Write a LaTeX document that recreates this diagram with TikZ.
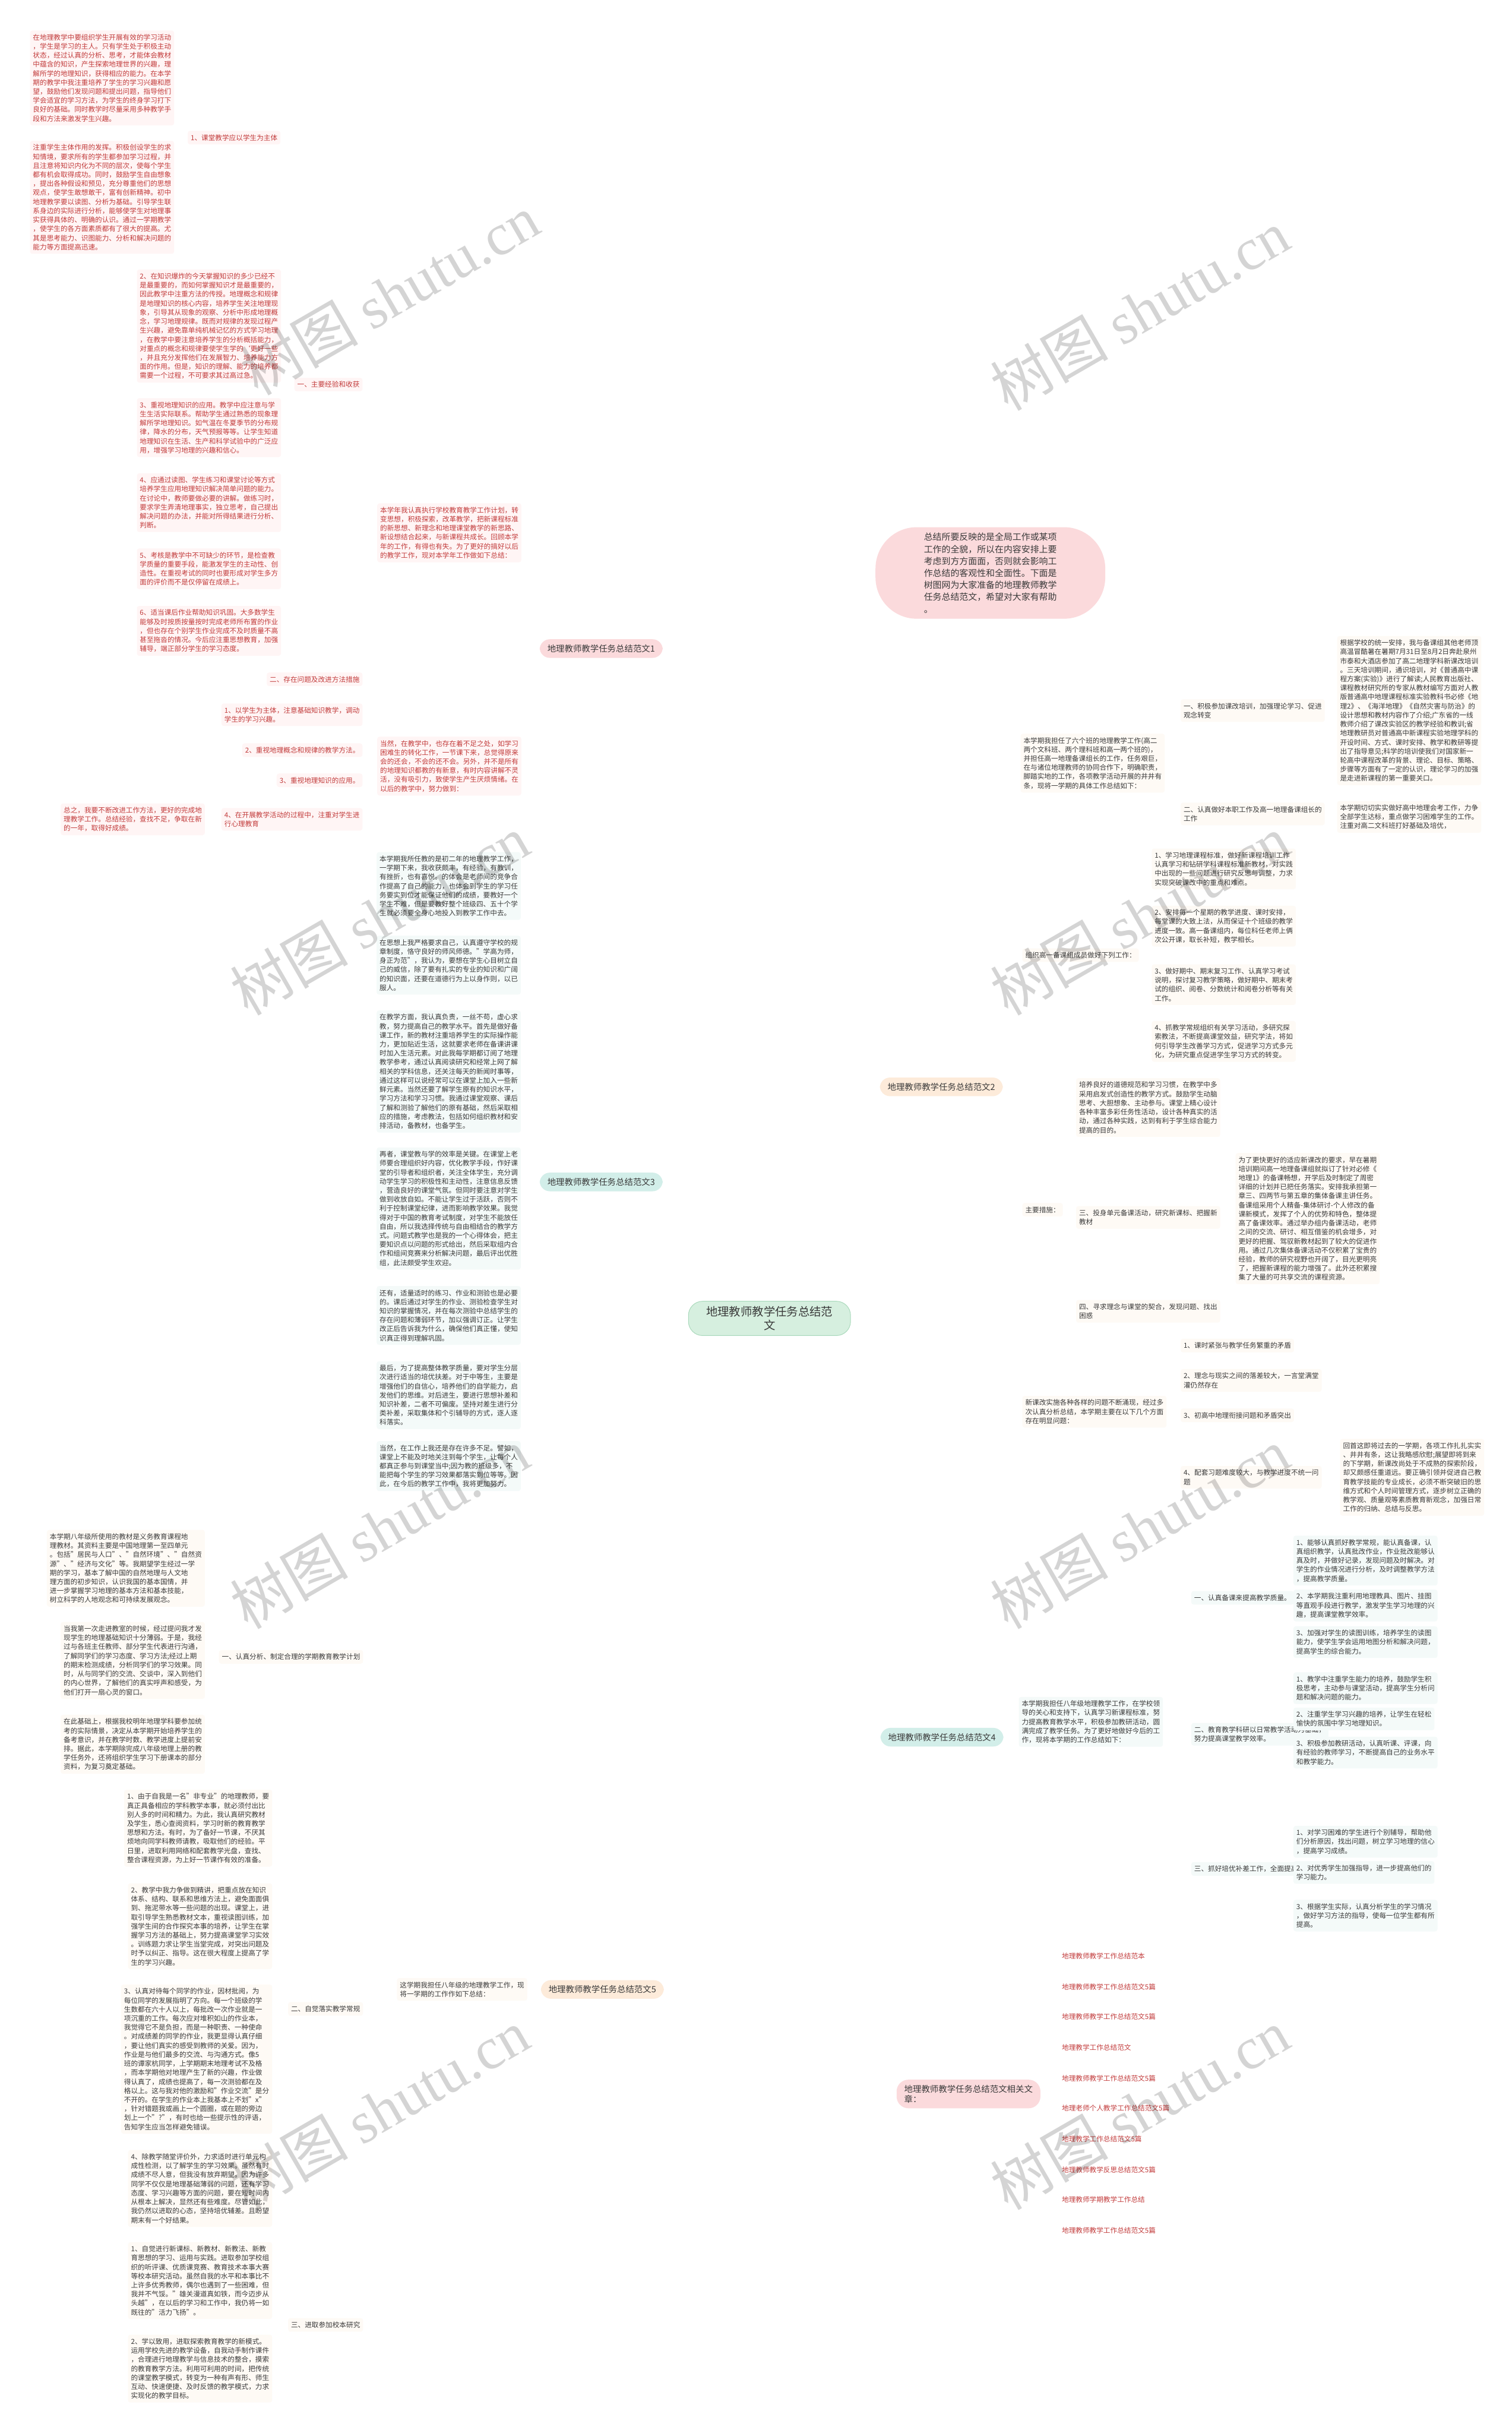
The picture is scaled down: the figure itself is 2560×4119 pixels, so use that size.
\documentclass[tikz,border=0pt]{standalone}
\usepackage{fontspec}
\setmainfont{Noto Sans CJK SC}
\newfontfamily\wmfont{Liberation Serif}
\usetikzlibrary{backgrounds}
\definecolor{pkfill}{HTML}{FBDADC}
\definecolor{pkline}{HTML}{F2C6CA}
\definecolor{pklight}{HTML}{FFF5F5}
\definecolor{pktext}{HTML}{C23B3B}
\definecolor{tlfill}{HTML}{D2EEE9}
\definecolor{tlline}{HTML}{BCE3DC}
\definecolor{tllight}{HTML}{F4FAF9}
\definecolor{crfill}{HTML}{FDEBDA}
\definecolor{crline}{HTML}{F5E1CA}
\definecolor{crlight}{HTML}{FEFAF5}
\definecolor{dtext}{HTML}{3A3A3A}
\definecolor{cfill}{HTML}{D6EFDF}
\definecolor{cline}{HTML}{A9D9BB}
\newcommand\dt{\fontsize{11.7}{15.3}\selectfont}
\tikzset{
  txt/.style={font=\dt, align=left, inner xsep=5pt, inner ysep=6pt, rounded corners=4pt},
  pk/.style={txt, fill=pklight, text=pktext},
  tl/.style={txt, fill=tllight, text=dtext},
  cr/.style={txt, fill=crlight, text=dtext},
  brnode/.style={font=\fontsize{14.5}{17}\selectfont, inner xsep=13pt, inner ysep=9pt, rounded corners=17pt, text=dtext},
  lpk/.style={draw=pkline, line width=1.6pt, rounded corners=9pt},
  ltl/.style={draw=tlline, line width=1.6pt, rounded corners=9pt},
  lcr/.style={draw=crline, line width=1.6pt, rounded corners=9pt},
  mpk/.style={draw=pkline, line width=3pt},
  mtl/.style={draw=tlline, line width=3pt},
  mcr/.style={draw=crline, line width=3pt},
  wm/.style={text=black, text opacity=0.17, font=\fontsize{100}{102}\selectfont, rotate=30}
}
\begin{document}
\begin{tikzpicture}[x=1pt,y=-1pt]
\fill[white] (0,0) rectangle (2560,4119);
\useasboundingbox (0,0) rectangle (2560,4119);

% ---------------- center
\node[font=\fontsize{19.5}{24}\selectfont, fill=cfill, draw=cline, line width=1pt, rounded corners=24pt, inner xsep=30pt, inner ysep=8pt, align=center, text=dtext] (c) at (1303,2232) {地理教师教学任务总结范\\文};

% ---------------- branch 1 (pink)
\node[brnode, fill=pkfill] (b1) at (1018,1098) {地理教师教学任务总结范文1};
\node[pk, anchor=east] (b1a) at (883,902) {本学年我认真执行学校教育教学工作计划，转\\变思想，积极探索，改革教学，把新课程标准\\的新思想、新理念和地理课堂教学的新思路、\\新设想结合起来，与新课程共成长。回顾本学\\年的工作，有得也有失。为了更好的搞好以后\\的教学工作，现对本学年工作做如下总结：};
\node[pk, anchor=east] (b1b) at (883,1297) {当然，在教学中，也存在着不足之处，如学习\\困难生的转化工作，一节课下来，总觉得原来\\会的还会，不会的还不会。另外，并不是所有\\的地理知识都教的有新意，有时内容讲解不灵\\活，没有吸引力，致使学生产生厌烦情绪。在\\以后的教学中，努力做到：};
\node[pk, anchor=east] (b1a1) at (614,651) {一、主要经验和收获};
\node[pk, anchor=east] (b1a2) at (614,1150) {二、存在问题及改进方法措施};
\node[pk, anchor=east] (k1) at (475,233) {1、课堂教学应以学生为主体};
\node[pk, anchor=east] (k1a) at (295,132) {在地理教学中要组织学生开展有效的学习活动\\，学生是学习的主人。只有学生处于积极主动\\状态，经过认真的分析、思考，才能体会教材\\中蕴含的知识，产生探索地理世界的兴趣，理\\解所学的地理知识，获得相应的能力。在本学\\期的教学中我注重培养了学生的学习兴趣和愿\\望，鼓励他们发现问题和提出问题，指导他们\\学会适宜的学习方法，为学生的终身学习打下\\良好的基础。同时教学时尽量采用多种教学手\\段和方法来激发学生兴趣。};
\node[pk, anchor=east] (k1b) at (295,334) {注重学生主体作用的发挥。积极创设学生的求\\知情境，要求所有的学生都参加学习过程，并\\且注意将知识内化为不同的层次，使每个学生\\都有机会取得成功。同时，鼓励学生自由想象\\，提出各种假设和预见，充分尊重他们的思想\\观点，使学生敢想敢干，富有创新精神。初中\\地理教学要以读图、分析为基础。引导学生联\\系身边的实际进行分析，能够使学生对地理事\\实获得具体的、明确的认识。通过一学期教学\\，使学生的各方面素质都有了很大的提高。尤\\其是思考能力、识图能力、分析和解决问题的\\能力等方面提高迅速。};
\node[pk, anchor=east] (k2) at (476,552) {2、在知识爆炸的今天掌握知识的多少已经不\\是最重要的，而如何掌握知识才是最重要的，\\因此教学中注重方法的传授。地理概念和规律\\是地理知识的核心内容，培养学生关注地理现\\象，引导其从现象的观察、分析中形成地理概\\念，学习地理规律。既而对规律的发现过程产\\生兴趣，避免靠单纯机械记忆的方式学习地理\\，在教学中要注意培养学生的分析概括能力，\\对重点的概念和规律要使学生学的\symbol{96}更好一些\\，并且充分发挥他们在发展智力、培养能力方\\面的作用。但是，知识的理解、能力的培养都\\需要一个过程，不可要求其过高过急。};
\node[pk, anchor=east] (k3) at (476,724) {3、重视地理知识的应用。教学中应注意与学\\生生活实际联系。帮助学生通过熟悉的现象理\\解所学地理知识。如气温在冬夏季节的分布规\\律，降水的分布，天气预报等等。让学生知道\\地理知识在生活、生产和科学试验中的广泛应\\用，增强学习地理的兴趣和信心。};
\node[pk, anchor=east] (k4) at (476,851) {4、应通过读图、学生练习和课堂讨论等方式\\培养学生应用地理知识解决简单问题的能力。\\在讨论中，教师要做必要的讲解。做练习时，\\要求学生弄清地理事实，独立思考，自己提出\\解决问题的办法，并能对所得结果进行分析、\\判断。};
\node[pk, anchor=east] (k5) at (476,963) {5、考核是教学中不可缺少的环节，是检查教\\学质量的重要手段，能激发学生的主动性、创\\造性。在重视考试的同时也要形成对学生多方\\面的评价而不是仅停留在成绩上。};
\node[pk, anchor=east] (k6) at (476,1068) {6、适当课后作业帮助知识巩固。大多数学生\\能够及时按质按量按时完成老师所布置的作业\\，但也存在个别学生作业完成不及时质量不高\\甚至拖沓的情况。今后应注重思想教育，加强\\辅导，端正部分学生的学习态度。};
\node[pk, anchor=east] (m1) at (614,1210) {1、以学生为主体，注意基础知识教学，调动\\学生的学习兴趣。};
\node[pk, anchor=east] (m2) at (614,1270) {2、重视地理概念和规律的教学方法。};
\node[pk, anchor=east] (m3) at (614,1321) {3、重视地理知识的应用。};
\node[pk, anchor=east] (m4) at (614,1387) {4、在开展教学活动的过程中，注重对学生进\\行心理教育};
\node[pk, anchor=east] (m4a) at (347,1387) {总之，我要不断改进工作方法，更好的完成地\\理教学工作。总结经验，查找不足，争取在新\\的一年，取得好成绩。};

% ---------------- branch 3 (teal)
\node[brnode, fill=tlfill] (b3) at (1018,2001) {地理教师教学任务总结范文3};
\node[tl, anchor=east] (t1) at (882,1500) {本学期我所任教的是初二年的地理教学工作，\\一学期下来，我收获颇丰，有经验，有教训，\\有挫折，也有喜悦。的体会是老师间的竞争合\\作提高了自己的能力，也体会到学生的学习任\\务要实到位才能保证他们的成绩，要教好一个\\学生不难，但是要教好整个班级四、五十个学\\生就必须要全身心地投入到教学工作中去。};
\node[tl, anchor=east] (t2) at (882,1634) {在思想上我严格要求自己，认真遵守学校的规\\章制度，恪守良好的师风师德。"学高为师，\\身正为范"，我认为，要想在学生心目树立自\\己的威信，除了要有扎实的专业的知识和广阔\\的知识面，还要在道德行为上以身作则，以已\\服人。};
\node[tl, anchor=east] (t3) at (882,1814) {在教学方面，我认真负责，一丝不苟，虚心求\\教，努力提高自己的教学水平。首先是做好备\\课工作，新的教材注重培养学生的实际操作能\\力，更加贴近生活，这就要求老师在备课讲课\\时加入生活元素。对此我每学期都订阅了地理\\教学参考，通过认真阅读研究和经常上网了解\\相关的学科信息，还关注每天的新闻时事等，\\通过这样可以说经常可以在课堂上加入一些新\\鲜元素。当然还要了解学生原有的知识水平，\\学习方法和学习习惯。我通过课堂观察、课后\\了解和测验了解他们的原有基础，然后采取相\\应的措施，考虑教法，包括如何组织教材和安\\排活动，备教材，也备学生。};
\node[tl, anchor=east] (t4) at (882,2046) {再者，课堂教与学的效率是关键。在课堂上老\\师要合理组织好内容，优化教学手段，作好课\\堂的引导者和组织者，关注全体学生，充分调\\动学生学习的积极性和主动性，注意信息反馈\\，营造良好的课堂气氛。但同时要注意对学生\\做到收放自如。不能让学生过于活跃，否则不\\利于控制课堂纪律，进而影响教学效果。我觉\\得对于中国的教育考试制度，对学生不能放任\\自由，所以我选择传统与自由相结合的教学方\\式。问题式教学也是我的一个心得体会，把主\\要知识点以问题的形式给出，然后采取组内合\\作和组间竞赛来分析解决问题，最后评出优胜\\组，此法颇受学生欢迎。};
\node[tl, anchor=east] (t5) at (882,2227) {还有，适量适时的练习、作业和测验也是必要\\的。课后通过对学生的作业、测验检查学生对\\知识的掌握情况，并在每次测验中总结学生的\\存在问题和薄弱环节，加以强调订正。让学生\\改正后告诉我为什么，确保他们真正懂，使知\\识真正得到理解巩固。};
\node[tl, anchor=east] (t6) at (882,2362) {最后，为了提高整体教学质量，要对学生分层\\次进行适当的培优扶差。对于中等生，主要是\\增强他们的自信心，培养他们的自学能力，启\\发他们的思维。对后进生，要进行思想补差和\\知识补差，二者不可偏废。坚持对差生进行分\\类补差，采取集体和个引辅导的方式，逐人逐\\科落实。};
\node[tl, anchor=east] (t7) at (882,2482) {当然，在工作上我还是存在许多不足。譬如，\\课堂上不能及时地关注到每个学生，让每个人\\都真正参与到课堂当中;因为教的班级多，不\\能把每个学生的学习效果都落实到位等等。因\\此，在今后的教学工作中，我将更加努力。};

% ---------------- branch 5 (cream)
\node[brnode, fill=crfill] (b5) at (1020,3368) {地理教师教学任务总结范文5};
\node[cr, anchor=east] (f0) at (893,3368) {这学期我担任八年级的地理教学工作，现\\将一学期的工作作如下总结：};
\node[cr, anchor=east] (f1) at (615,2805) {一、认真分析、制定合理的学期教育教学计划};
\node[cr, anchor=east] (f2) at (615,3401) {二、自觉落实教学常规};
\node[cr, anchor=east] (f3) at (615,3936) {三、进取参加校本研究};
\node[cr, anchor=east] (f1a) at (347,2655) {本学期八年级所使用的教材是义务教育课程地\\理教材。其资料主要是中国地理第一至四单元\\。包括"居民与人口"、"自然环境"、"自然资\\源"、"经济与文化"等。我期望学生经过一学\\期的学习，基本了解中国的自然地理与人文地\\理方面的初步知识，认识我国的基本国情，并\\进一步掌握学习地理的基本方法和基本技能，\\树立科学的人地观念和可持续发展观念。};
\node[cr, anchor=east] (f1b) at (347,2811) {当我第一次走进教室的时候，经过提问我才发\\现学生的地理基础知识十分薄弱。于是，我经\\过与各班主任教师、部分学生代表进行沟通，\\了解同学们的学习态度、学习方法;经过上期\\的期末检测成绩，分析同学们的学习效果。同\\时，从与同学们的交流、交谈中，深入到他们\\的内心世界，了解他们的真实呼声和感受，为\\他们打开一扇心灵的窗口。};
\node[cr, anchor=east] (f1c) at (347,2953) {在此基础上，根据我校明年地理学科要参加统\\考的实际情景，决定从本学期开始培养学生的\\备考意识，并在教学时数、教学进度上提前安\\排。据此，本学期除完成八年级地理上册的教\\学任务外，还将组织学生学习下册课本的部分\\资料，为复习奠定基础。};
\node[cr, anchor=east] (f2a) at (461,3095) {1、由于自我是一名"非专业"的地理教师，要\\真正具备相应的学科教学本事，就必须付出比\\别人多的时间和精力。为此，我认真研究教材\\及学生，悉心查阅资料，学习时新的教育教学\\思想和方法。有时，为了备好一节课，不厌其\\烦地向同学科教师请教，吸取他们的经验。平\\日里，进取利用网络和配套教学光盘，查找、\\整合课程资源，为上好一节课作有效的准备。};
\node[cr, anchor=east] (f2b) at (461,3261) {2、教学中我力争做到精讲，把重点放在知识\\体系、结构、联系和思维方法上，避免面面俱\\到、拖泥带水等一些问题的出现。课堂上，进\\取引导学生熟悉教材文本，重视读图训练，加\\强学生间的合作探究本事的培养，让学生在掌\\握学习方法的基础上，努力提高课堂学习实效\\。训练题力求让学生当堂完成，对突出问题及\\时予以纠正、指导。这在很大程度上提高了学\\生的学习兴趣。};
\node[cr, anchor=east] (f2c) at (461,3486) {3、认真对待每个同学的作业，因材批阅，为\\每位同学的发展指明了方向。每一个班级的学\\生数都在六十人以上，每批改一次作业就是一\\项沉重的工作。每次应对堆积如山的作业本，\\我觉得它不是负担，而是一种职责、一种使命\\。对成绩差的同学的作业，我更显得认真仔细\\，要让他们真实的感受到教师的关爱。因为，\\作业是与他们最多的交流、与沟通方式。像5\\班的谭家杭同学，上学期期末地理考试不及格\\，而本学期他对地理产生了新的兴趣，作业做\\得认真了，成绩也提高了，每一次测验都在及\\格以上。这与我对他的激励和"作业交流"是分\\不开的。在学生的作业本上我基本上不划"x"\\，针对错题我或画上一个圆圈，或在题的旁边\\划上一个"?"，有时也给一些提示性的评语，\\告知学生应当怎样避免错误。};
\node[cr, anchor=east] (f2d) at (461,3705) {4、除教学随堂评价外，力求适时进行单元构\\成性检测，以了解学生的学习效果。虽然有时\\成绩不尽人意，但我没有放弃期望。因为许多\\同学不仅仅是地理基础薄弱的问题，还有学习\\态度、学习兴趣等方面的问题，要在短时间内\\从根本上解决，显然还有些难度。尽管如此，\\我仍然以进取的心态，坚持培优辅差。且盼望\\期末有一个好结果。};
\node[cr, anchor=east] (f3a) at (461,3861) {1、自觉进行新课标、新教材、新教法、新教\\育思想的学习、运用与实践。进取参加学校组\\织的听评课、优质课竞赛、教育技术本事大赛\\等校本研究活动。虽然自我的水平和本事比不\\上许多优秀教师，偶尔也遇到了一些困难，但\\我并不气馁。"雄关漫道真如铁，而今迈步从\\头越"，在以后的学习和工作中，我仍将一如\\既往的"活力飞扬"。};
\node[cr, anchor=east] (f3b) at (461,4010) {2、学以致用，进取探索教育教学的新模式。\\运用学校先进的教学设备，自我动手制作课件\\，合理进行地理教学与信息技术的整合，摸索\\的教育教学方法。利用可利用的时间，把传统\\的课堂教学模式，转变为一种有声有形、师生\\互动、快速便捷、及时反馈的教学模式，力求\\实现化的教学目标。};

% ---------------- intro (pink)
\node[fill=pkfill, rounded corners=70pt, minimum width=389pt, minimum height=155pt, align=left, font=\fontsize{15}{20.3}\selectfont, text=dtext] (intro) at (1677,970) {总结所要反映的是全局工作或某项\\工作的全貌，所以在内容安排上要\\考虑到方方面面，否则就会影响工\\作总结的客观性和全面性。下面是\\树图网为大家准备的地理教师教学\\任务总结范文，希望对大家有帮助\\。};

% ---------------- branch 2 (cream)
\node[brnode, fill=crfill] (b2) at (1594,1840) {地理教师教学任务总结范文2};
\node[cr, anchor=west] (r1) at (1728,1292) {本学期我担任了六个班的地理教学工作(高二\\两个文科班、两个理科班和高一两个班的)，\\并担任高一地理备课组长的工作，任务艰巨，\\在与诸位地理教师的协同合作下，明确职责，\\脚踏实地的工作，各项教学活动开展的井井有\\条，现将一学期的具体工作总结如下：};
\node[cr, anchor=west] (r1a) at (1999,1203) {一、积极参加课改培训，加强理论学习、促进\\观念转变};
\node[cr, anchor=west] (r1b) at (1999,1378) {二、认真做好本职工作及高一地理备课组长的\\工作};
\node[cr, anchor=west] (r1a1) at (2264,1203) {根据学校的统一安排，我与备课组其他老师顶\\高温冒酷暑在暑期7月31日至8月2日奔赴泉州\\市泰和大酒店参加了高二地理学科新课改培训\\。三天培训期间，通识培训，对《普通高中课\\程方案(实验)》进行了解读;人民教育出版社、\\课程教材研究所的专家从教材编写方面对人教\\版普通高中地理课程标准实验教科书必修《地\\理2》、《海洋地理》《自然灾害与防治》的\\设计思想和教材内容作了介绍;广东省的一线\\教师介绍了课改实验区的教学经验和教训;省\\地理教研员对普通高中新课程实验地理学科的\\开设时间、方式、课时安排、教学和教研等提\\出了指导意见;科学的培训使我们对国家新一\\轮高中课程改革的背景、理论、目标、策略、\\步骤等方面有了一定的认识，理论学习的加强\\是走进新课程的第一重要关口。};
\node[cr, anchor=west] (r1b1) at (2264,1383) {本学期切切实实做好高中地理会考工作，力争\\全部学生达标，重点做学习困难学生的工作。\\注重对高二文科班打好基础及培优，};
\node[cr, anchor=west] (r2) at (1731,1617) {组织高一备课组成员做好下列工作：};
\node[cr, anchor=west] (r2a) at (1950,1471) {1、学习地理课程标准，做好新课程培训工作\\认真学习和钻研学科课程标准新教材，对实践\\中出现的一些问题进行研究反思与调整，力求\\实现突破课改中的重点和难点。};
\node[cr, anchor=west] (r2b) at (1950,1568) {2、安排每一个星期的教学进度、课时安排，\\每堂课的大致上法，从而保证十个班级的教学\\进度一致。高一备课组内，每位科任老师上俩\\次公开课，取长补短，教学相长。};
\node[cr, anchor=west] (r2c) at (1950,1667) {3、做好期中、期末复习工作、认真学习考试\\说明，探讨复习教学策略，做好期中、期末考\\试的组织、阅卷、分数统计和阅卷分析等有关\\工作。};
\node[cr, anchor=west] (r2d) at (1950,1763) {4、抓教学常规组织有关学习活动，多研究探\\索教法，不断提高课堂效益，研究学法，将如\\何引导学生改善学习方式，促进学习方式多元\\化，为研究重点促进学生学习方式的转变。};
\node[cr, anchor=west] (r3) at (1731,2048) {主要措施：};
\node[cr, anchor=west] (r3a) at (1822,1875) {培养良好的道德规范和学习习惯，在教学中多\\采用启发式创造性的教学方式。鼓励学生动脑\\思考、大胆想象、主动参与。课堂上精心设计\\各种丰富多彩任务性活动，设计各种真实的活\\动，通过各种实践，达到有利于学生综合能力\\提高的目的。};
\node[cr, anchor=west] (r3b) at (1822,2061) {三、投身单元备课活动，研究新课标、把握新\\教材};
\node[cr, anchor=west] (r3c) at (1822,2220) {四、寻求理念与课堂的契合，发现问题、找出\\困惑};
\node[cr, anchor=west] (r3b1) at (2092,2063) {为了更快更好的适应新课改的要求，早在暑期\\培训期间高一地理备课组就拟订了针对必修《\\地理1》的备课畅想，开学后及时制定了周密\\详细的计划并已把任务落实。安排我承担第一\\章三、四两节与第五章的集体备课主讲任务。\\备课组采用个人精备-集体研讨-个人修改的备\\课新模式，发挥了个人的优势和特色，整体提\\高了备课效率。通过举办组内备课活动，老师\\之间的交流、研讨、相互借鉴的机会增多，对\\更好的把握、驾驭新教材起到了较大的促进作\\用。通过几次集体备课活动不仅积累了宝贵的\\经验，教师的研究视野也开阔了，目光更明亮\\了，把握新课程的能力增强了。此外还积累搜\\集了大量的可共享交流的课程资源。};
\node[cr, anchor=west] (r4) at (1731,2390) {新课改实施各种各样的问题不断涌现，经过多\\次认真分析总结，本学期主要在以下几个方面\\存在明显问题：};
\node[cr, anchor=west] (r4a) at (1999,2278) {1、课时紧张与教学任务繁重的矛盾};
\node[cr, anchor=west] (r4b) at (1999,2337) {2、理念与现实之间的落差较大，一言堂满堂\\灌仍然存在};
\node[cr, anchor=west] (r4c) at (1999,2396) {3、初高中地理衔接问题和矛盾突出};
\node[cr, anchor=west] (r4d) at (1999,2501) {4、配套习题难度较大，与教学进度不统一问\\题};
\node[cr, anchor=west] (r4d1) at (2269,2501) {回首这即将过去的一学期，各项工作扎扎实实\\、井井有条，这让我略感欣慰;展望即将到来\\的下学期，新课改尚处于不成熟的探索阶段，\\却又颇感任重道远。要正确引领并促进自己教\\育教学技能的专业成长，必须不断突破旧的思\\维方式和个人时间管理方式，逐步树立正确的\\教学观、质量观等素质教育新观念，加强日常\\工作的归纳、总结与反思。};

% ---------------- branch 4 (teal)
\node[brnode, fill=tlfill] (b4) at (1595,2941) {地理教师教学任务总结范文4};
\node[tl, anchor=west] (q0) at (1725,2915) {本学期我担任八年级地理教学工作，在学校领\\导的关心和支持下，认真学习新课程标准，努\\力提高教育教学水平，积极参加教研活动，圆\\满完成了教学任务。为了更好地做好今后的工\\作，现将本学期的工作总结如下：};
\node[tl, anchor=west] (q1) at (2017,2705) {一、认真备课来提高教学质量。};
\node[tl, anchor=west] (q2) at (2017,2936) {二、教育教学科研以日常教学活动为基础，\\努力提高课堂教学效率。};
\node[tl, anchor=west] (q3) at (2017,3164) {三、抓好培优补差工作，全面提高教学质量。};
\node[tl, anchor=west] (q1a) at (2190,2642) {1、能够认真抓好教学常规，能认真备课，认\\真组织教学，认真批改作业，作业批改能够认\\真及时，并做好记录，发现问题及时解决。对\\学生的作业情况进行分析，及时调整教学方法\\，提高教学质量。};
\node[tl, anchor=west] (q1b) at (2190,2718) {2、本学期我注重利用地理教具、图片、挂图\\等直观手段进行教学，激发学生学习地理的兴\\趣，提高课堂教学效率。};
\node[tl, anchor=west] (q1c) at (2190,2780) {3、加强对学生的读图训练，培养学生的读图\\能力，使学生学会运用地图分析和解决问题，\\提高学生的综合能力。};
\node[tl, anchor=west] (q2a) at (2190,2858) {1、教学中注重学生能力的培养，鼓励学生积\\极思考，主动参与课堂活动，提高学生分析问\\题和解决问题的能力。};
\node[tl, anchor=west] (q2b) at (2190,2910) {2、注重学生学习兴趣的培养，让学生在轻松\\愉快的氛围中学习地理知识。};
\node[tl, anchor=west] (q2c) at (2190,2967) {3、积极参加教研活动，认真听课、评课，向\\有经验的教师学习，不断提高自己的业务水平\\和教学能力。};
\node[tl, anchor=west] (q3a) at (2190,3118) {1、对学习困难的学生进行个别辅导，帮助他\\们分析原因，找出问题，树立学习地理的信心\\，提高学习成绩。};
\node[tl, anchor=west] (q3b) at (2190,3170) {2、对优秀学生加强指导，进一步提高他们的\\学习能力。};
\node[tl, anchor=west] (q3c) at (2190,3243) {3、根据学生实际，认真分析学生的学习情况\\，做好学习方法的指导，使每一位学生都有所\\提高。};

% ---------------- related (pink)
\node[brnode, fill=pkfill, rounded corners=20pt, align=left] (rel) at (1640,3545) {地理教师教学任务总结范文相关文\\章：};
\foreach \i/\yy/\tt in {1/3311/地理教师教学工作总结范本,2/3364/地理教师教学工作总结范文5篇,3/3414/地理教师教学工作总结范文5篇,4/3466/地理教学工作总结范文,5/3519/地理教师教学工作总结范文5篇,6/3569/地理老师个人教学工作总结范文5篇,7/3621/地理教学工作总结范文5篇,8/3674/地理教师教学反思总结范文5篇,9/3724/地理教师学期教学工作总结,10/3776/地理教师教学工作总结范文5篇}{
  \node[pk, anchor=west, fill=none] (L\i) at (1793,\yy) {\tt};
}

% ---------------- connectors
\begin{scope}[on background layer]
\draw[mpk] (c.center) .. controls (1185,2232) and (1185,1098) .. (b1.east);
\draw[mtl] (c.center) .. controls (1185,2232) and (1185,2001) .. (b3.east);
\draw[mcr] (c.center) .. controls (1185,2232) and (1185,3368) .. (b5.east);
\draw[mpk] (c.center) .. controls (1410,2232) and (1410,970) .. (intro.west);
\draw[mcr] (c.center) .. controls (1410,2232) and (1410,1840) .. (b2.west);
\draw[mtl] (c.center) .. controls (1410,2232) and (1410,2941) .. (b4.west);
\draw[mpk] (c.center) .. controls (1410,2232) and (1410,3545) .. (rel.west);
\foreach \n in {b1a,b1b} \draw[lpk] (b1.west) -- ++(-12,0) |- (\n.east);
\foreach \n in {b1a1,b1a2} \draw[lpk] (b1a.west) -- ++(-12,0) |- (\n.east);
\foreach \n in {k1,k2,k3,k4,k5,k6} \draw[lpk] (b1a1.west) -- ++(-13,0) |- (\n.east);
\foreach \n in {k1a,k1b} \draw[lpk] (k1.west) -- ++(-11,0) |- (\n.east);
\foreach \n in {m1,m2,m3,m4} \draw[lpk] (b1b.west) -- ++(-12,0) |- (\n.east);
\draw[lpk] (m4.west) -- (m4a.east);
\foreach \n in {t1,t2,t3,t4,t5,t6,t7} \draw[ltl] (b3.west) -- ++(-12,0) |- (\n.east);
\draw[lcr] (b5.west) -- (f0.east);
\foreach \n in {f1,f2,f3} \draw[lcr] (f0.west) -- ++(-14,0) |- (\n.east);
\foreach \n in {f1a,f1b,f1c} \draw[lcr] (f1.west) -- ++(-12,0) |- (\n.east);
\foreach \n in {f2a,f2b,f2c,f2d} \draw[lcr] (f2.west) -- ++(-12,0) |- (\n.east);
\foreach \n in {f3a,f3b} \draw[lcr] (f3.west) -- ++(-12,0) |- (\n.east);
\foreach \n in {r1,r2,r3,r4} \draw[lcr] (b2.east) -- ++(22,0) |- (\n.west);
\foreach \n in {r1a,r1b} \draw[lcr] (r1.east) -- ++(14,0) |- (\n.west);
\draw[lcr] (r1a.east) -- (r1a1.west);
\draw[lcr] (r1b.east) -- (r1b1.west);
\foreach \n in {r2a,r2b,r2c,r2d} \draw[lcr] (r2.east) -- ++(12,0) |- (\n.west);
\foreach \n in {r3a,r3b,r3c} \draw[lcr] (r3.east) -- ++(12,0) |- (\n.west);
\draw[lcr] (r3b.east) -- (r3b1.west);
\foreach \n in {r4a,r4b,r4c,r4d} \draw[lcr] (r4.east) -- ++(12,0) |- (\n.west);
\draw[lcr] (r4d.east) -- (r4d1.west);
\draw[ltl] (b4.east) -- (q0.west);
\foreach \n in {q1,q2,q3} \draw[ltl] (q0.east) -- ++(14,0) |- (\n.west);
\foreach \n in {q1a,q1b,q1c} \draw[ltl] (q1.east) -- ++(12,0) |- (\n.west);
\foreach \n in {q2a,q2b,q2c} \draw[ltl] (q2.east) -- ++(12,0) |- (\n.west);
\foreach \n in {q3a,q3b,q3c} \draw[ltl] (q3.east) -- ++(12,0) |- (\n.west);
\foreach \i in {1,...,10} \draw[lpk] (rel.east) -- ++(14,0) |- (L\i.west);
\end{scope}

% ---------------- watermarks
\foreach \wx/\wy in {660/499,1930/525,643/1549,1930/1549,643/2587,1930/2587,643/3571,1930/3571}{
  \node[wm] at (\wx,\wy) {树图 {\wmfont shutu.cn}};
}
\end{tikzpicture}
\end{document}
